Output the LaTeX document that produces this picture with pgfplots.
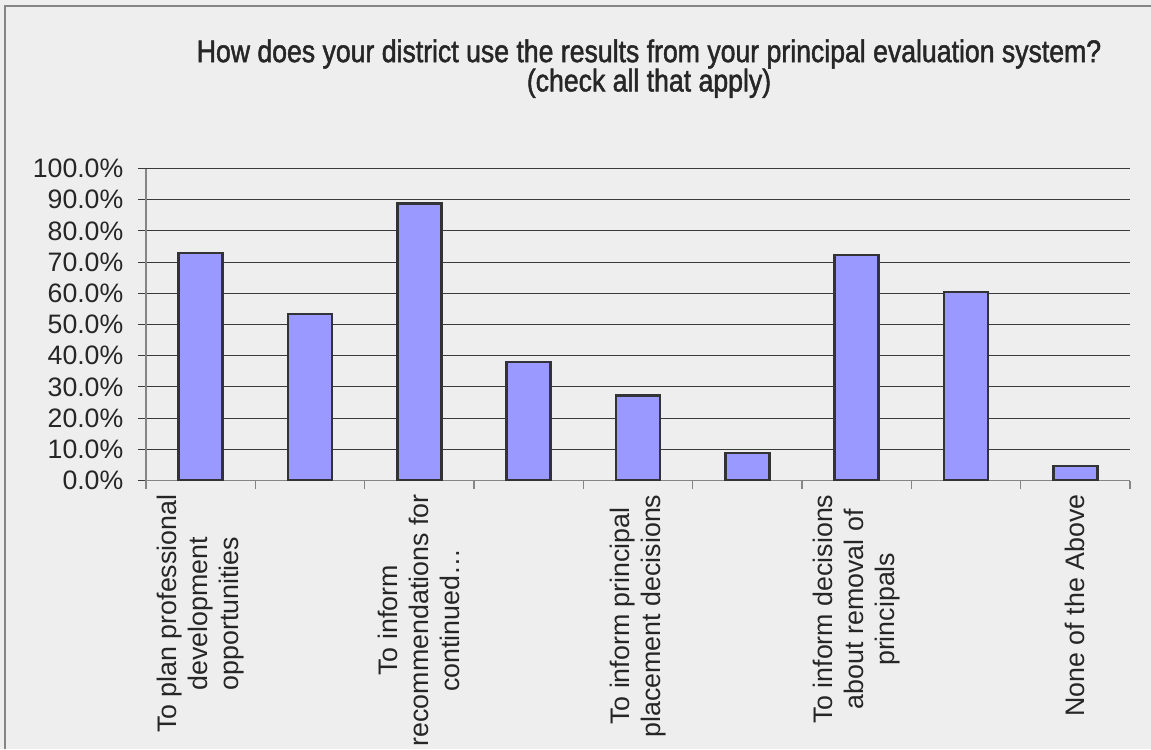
\documentclass[border=0pt]{standalone}
\usepackage{pgfplots}
\pgfplotsset{compat=1.18}
\usepackage{fontspec}
\setmainfont{Liberation Sans}
\newfontfamily\titlefont[FakeStretch=0.85, FakeBold=1.5]{Liberation Sans}

\definecolor{bg}{HTML}{EEEEEE}
\definecolor{barfill}{HTML}{9999FF}
\definecolor{baredge}{HTML}{333333}
\definecolor{gridc}{HTML}{3A3A3A}
\definecolor{axisc}{HTML}{858585}
\definecolor{textc}{HTML}{262626}

\begin{document}
\begin{tikzpicture}
% chart area and frame
\fill[bg] (0pt,0pt) rectangle (863.25pt,-561.75pt);
\draw[axisc, line width=1.2pt] (3.75pt,-561.75pt) -- (3.75pt,-4.5pt) -- (863.25pt,-4.5pt);

\node[font=\titlefont\fontsize{23.5}{22}\selectfont, align=center, text=textc]
  at (486.75pt,-51.5pt)
  {How does your district use the results from your principal evaluation system?\\(check all that apply)};

\begin{axis}[
  at={(109.5pt,-360.4pt)}, anchor=south west,
  scale only axis, width=738pt, height=234pt,
  xmin=-0.5, xmax=8.5, ymin=0, ymax=100,
  axis lines=left,
  axis line style={-, axisc, line width=1.4pt},
  tick align=outside,
  major tick length=6pt,
  tick style={gridc, line width=0.7pt},
  ymajorgrids,
  major grid style={gridc, line width=0.7pt},
  ytick={0,10,...,100},
  /pgf/number format/assume math mode=true,
  yticklabel={\pgfmathprintnumber[fixed,fixed zerofill,precision=1]{\tick}\%},
  yticklabel style={font=\fontsize{20}{22}\selectfont, text=textc, xshift=-7.5pt},
  xtick={-0.5,0.5,1.5,2.5,3.5,4.5,5.5,6.5,7.5,8.5},
  xticklabels={},
  x tick style={axisc, line width=0.8pt},
  extra x ticks={0,2,4,6,8},
  extra x tick labels={
    {To plan professional\\development\\opportunities},
    {To inform\\recommendations for\\continued\ldots},
    {To inform principal\\placement decisions},
    {To inform decisions\\about removal of\\principals},
    {None of the Above}},
  extra x tick style={major tick length=0pt, grid=none,
    xticklabel style={rotate=90, anchor=east, align=center,
      font=\fontsize{20.1}{23.3}\selectfont, text=textc, xshift=-7pt}},
]
\addplot[ybar, bar width=33pt, fill=barfill, draw=baredge, line width=1.8pt]
  coordinates {(0,73.0) (1,53.4) (2,88.8) (3,38.0) (4,27.2) (5,8.9) (6,72.3) (7,60.4) (8,4.7)};
\end{axis}

\pgfresetboundingbox
\useasboundingbox (0pt,0pt) rectangle (863.25pt,-561.75pt);
\end{tikzpicture}
\end{document}
